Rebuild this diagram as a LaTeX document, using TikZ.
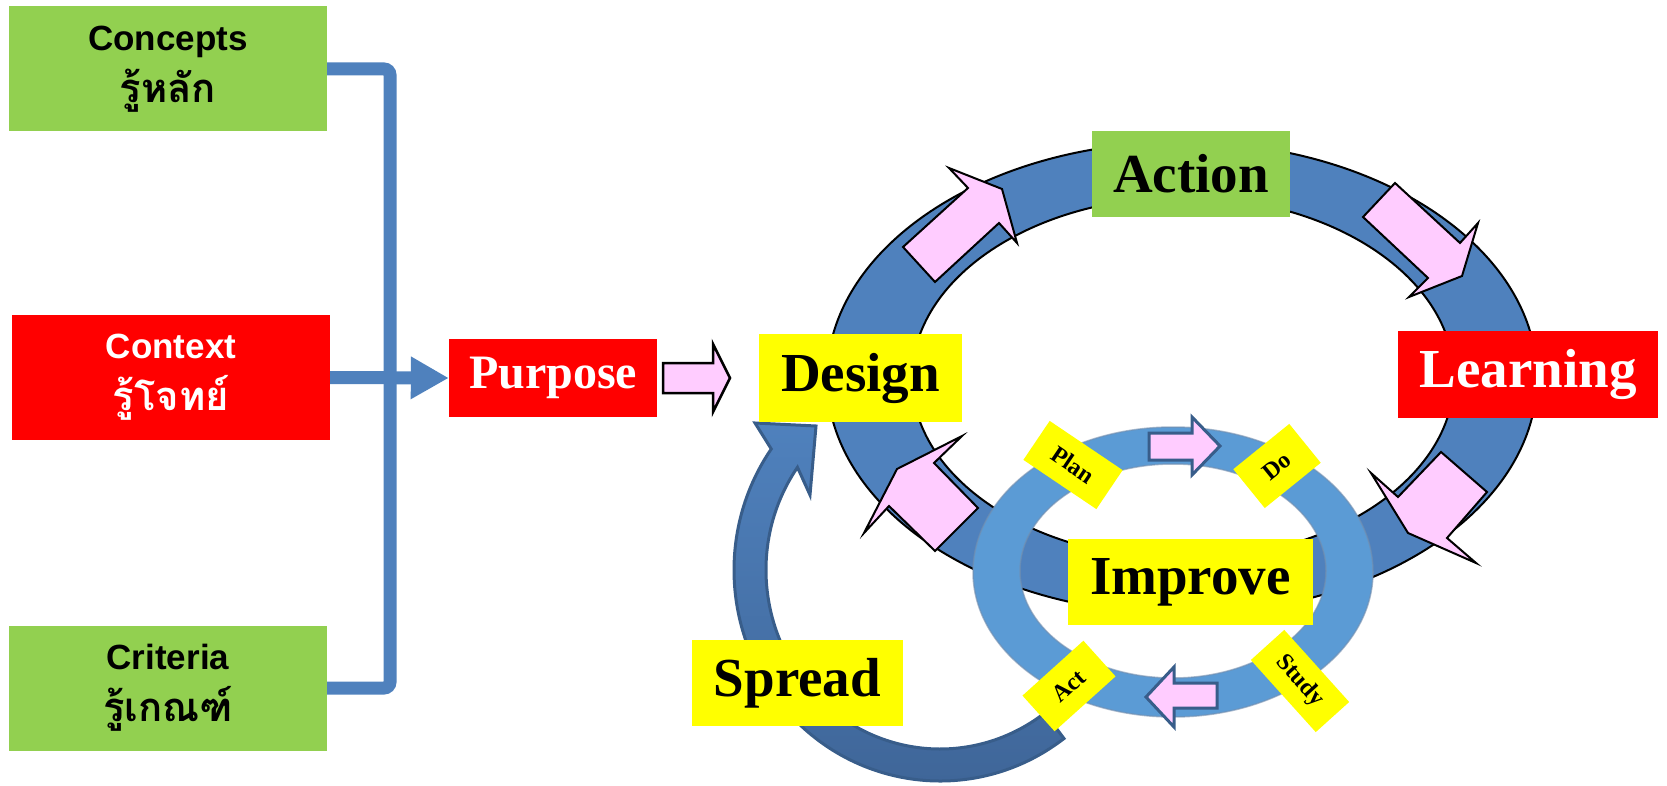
\documentclass[tikz,border=0pt]{standalone}
\usepackage{fontspec}
\setmainfont{Liberation Serif}
\newfontfamily\sansf{Liberation Sans}
\newfontfamily\thaifont[Script=Thai]{Loma}
\usetikzlibrary{arrows.meta,calc}
\definecolor{rblue}{RGB}{79,129,189}
\definecolor{sblue}{RGB}{91,155,213}
\definecolor{dblue}{RGB}{56,93,138}
\definecolor{sdark}{RGB}{62,100,150}
\definecolor{pinkf}{RGB}{255,204,255}
\definecolor{gbox}{RGB}{146,208,80}
\definecolor{ybox}{RGB}{255,255,0}
\definecolor{rbox}{RGB}{255,0,0}
\begin{document}
\begin{tikzpicture}[x=1pt,y=-1pt,
  leftbox/.style={inner sep=0pt, align=center, minimum width=318pt, minimum height=125pt,
    font=\sansf\bfseries\fontsize{35}{52}\selectfont},
  bigbox/.style={inner sep=0pt, font=\bfseries\fontsize{55}{60}\selectfont},
  lab/.style={fill=ybox, inner sep=0pt, font=\bfseries\fontsize{24}{26}\selectfont},
  conn/.style={draw=rblue, line width=13pt},
  pinkarrow/.style={fill=pinkf, draw=black, line width=2pt, line join=miter},
  smallarrow/.style={fill=pinkf, draw=dblue, line width=3pt, line join=miter},
]
\useasboundingbox (0,0) rectangle (1667,786);

% left boxes
\node[leftbox, fill=gbox] (concepts) at (168,69) {Concepts\\{\thaifont\bfseries\fontsize{40}{52}\selectfont รู้หลัก}};
\node[leftbox, fill=rbox, text=white] (context) at (171,377.5) {Context\\{\thaifont\bfseries\fontsize{40}{52}\selectfont รู้โจทย์}};
\node[leftbox, fill=gbox] (criteria) at (168,688) {Criteria\\{\thaifont\bfseries\fontsize{40}{52}\selectfont รู้เกณฑ์}};

\node[inner sep=0pt, fill=rbox, text=white, minimum width=208pt, minimum height=78pt,
  font=\bfseries\fontsize{48}{52}\selectfont] (purpose) at (553,378) {Purpose};

% bracket connector
\coordinate (jx) at (390,0);
\draw[conn, rounded corners=6pt] (concepts.east) -- (concepts.east -| jx) -- (criteria.east -| jx) -- (criteria.east);
\draw[conn, -{Triangle[length=38pt,width=40pt]}] (context.east) -- (purpose.west);

% purpose -> design block arrow
\draw[pinkarrow, line width=2.5pt] (663,363) -- (713,363) -- (713,344) -- (730,378) -- (713,412) -- (713,393) -- (663,393) -- cycle;

% big ring
\path[fill=rblue, draw=black, line width=2pt, even odd rule]
  (1182,378) ellipse [x radius=355, y radius=236]
  (1183,378) ellipse [x radius=271, y radius=181];

% pink arrows on big ring
\draw[pinkarrow] (903,247) -- (968,188) -- (949,168) -- (1002,189) -- (1017,243) -- (999,223) -- (935,282) -- cycle;
\draw[pinkarrow] (1395,183) -- (1460,243) -- (1478,223) -- (1462,276) -- (1409,297) -- (1428,278) -- (1363,217) -- cycle;
\draw[pinkarrow] (1441,452) -- (1487,492) -- (1447,538) -- (1476,563) -- (1408,533) -- (1371,473) -- (1398,497) -- cycle;
\draw[pinkarrow] (978,508) -- (934,463) -- (962,436) -- (897,469) -- (864,533) -- (889,506) -- (935,551) -- cycle;

% spread curved arrow
\coordinate (sc) at (940,570);
\path[draw=dblue, line width=3pt, line join=miter, top color=rblue, bottom color=sdark]
  (sc) ++(53:206 and 211)
  arc[start angle=53, end angle=215, x radius=206, y radius=211]
  -- (755,423) -- (816,426) -- (810,495)
  -- ($(sc)+(215:174 and 179)$)
  arc[start angle=215, end angle=53, x radius=174, y radius=179] -- cycle;

% small ring
\path[fill=sblue, draw=dblue!70, draw opacity=0.6, line width=1.5pt, even odd rule]
  (1173,572) ellipse [x radius=200, y radius=145]
  (1173,571) ellipse [x radius=153, y radius=107];

\draw[smallarrow] (1149,433) -- (1192,433) -- (1192,417) -- (1220,446) -- (1192,475) -- (1192,460) -- (1149,460) -- cycle;
\draw[smallarrow] (1217,683) -- (1174,683) -- (1174,667) -- (1146,697) -- (1174,727) -- (1174,708) -- (1217,708) -- cycle;

% PDSA labels
\node[lab, minimum width=88pt, minimum height=47pt, rotate=-34] (plan) at (1073,465) {Plan};
\node[lab, minimum width=72pt, minimum height=50pt, rotate=39] (do) at (1277,466) {Do};
\node[lab, minimum width=97pt, minimum height=45pt, rotate=-48] (study) at (1300,681) {Study};
\node[lab, minimum width=82pt, minimum height=48pt, rotate=42] (act) at (1069,686) {Act};

% cycle boxes
\node[bigbox, fill=gbox, minimum width=198pt, minimum height=86pt] (action) at (1191,174) {Action};
\node[bigbox, fill=ybox, minimum width=203pt, minimum height=88pt] (design) at (860.5,378) {Design};
\node[bigbox, fill=rbox, text=white, minimum width=260pt, minimum height=87pt] (learning) at (1528,374.5) {Learning};
\node[bigbox, fill=ybox, minimum width=245pt, minimum height=86pt] (improve) at (1190.5,582) {Improve};
\node[bigbox, fill=ybox, minimum width=211pt, minimum height=86pt] (spread) at (797.5,683) {Spread};
\end{tikzpicture}
\end{document}
